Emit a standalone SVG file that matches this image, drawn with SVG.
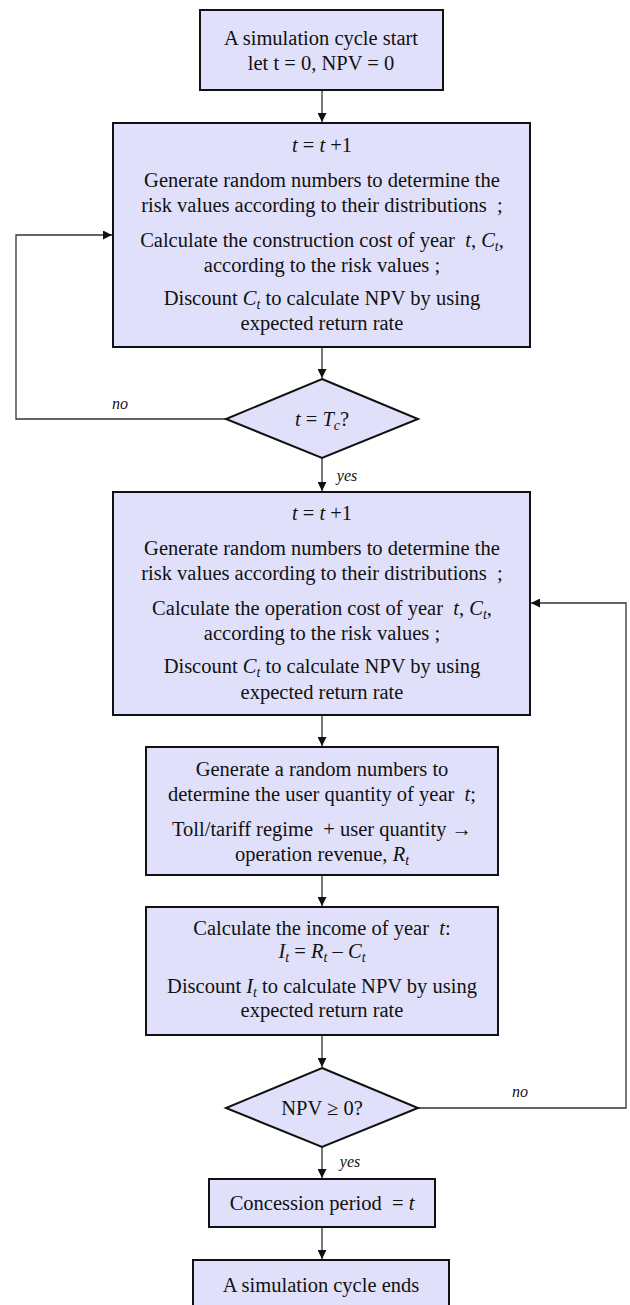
<svg xmlns="http://www.w3.org/2000/svg" width="630" height="1305" viewBox="0 0 630 1305">
<style>
.box{fill:#e0e0fb;stroke:#111;stroke-width:2}
.t{font-family:'Liberation Serif','DejaVu Serif',serif;font-size:20.5px;fill:#111;text-anchor:middle}
.i{font-style:italic}
.lbl{font-family:'Liberation Serif','DejaVu Serif',serif;font-size:16px;font-style:italic;fill:#111;text-anchor:middle}
.c{fill:none;stroke:#333;stroke-width:1.3}
</style>
<defs>
<marker id="ah" viewBox="0 0 10 10" refX="10" refY="5" markerWidth="9" markerHeight="9" markerUnits="userSpaceOnUse" orient="auto">
<path d="M0,0 L10,5 L0,10 z" fill="#111"/>
</marker>
</defs>
<rect width="630" height="1305" fill="#fff"/>
<g id="connectors">
<path class="c" d="M322,90 V122" marker-end="url(#ah)"/>
<path class="c" d="M322,347 V378" marker-end="url(#ah)"/>
<path class="c" d="M226,419 H16 V235 H112" marker-end="url(#ah)"/>
<path class="c" d="M322,458 V491" marker-end="url(#ah)"/>
<path class="c" d="M322,715 V746" marker-end="url(#ah)"/>
<path class="c" d="M322,875 V906" marker-end="url(#ah)"/>
<path class="c" d="M322,1035 V1067" marker-end="url(#ah)"/>
<path class="c" d="M418,1108 H626 V603 H531" marker-end="url(#ah)"/>
<path class="c" d="M322,1147 V1178" marker-end="url(#ah)"/>
<path class="c" d="M322,1227 V1259" marker-end="url(#ah)"/>
<text class="lbl" x="120" y="409">no</text>
<text class="lbl" x="347" y="481">yes</text>
<text class="lbl" x="520" y="1097">no</text>
<text class="lbl" x="350" y="1167">yes</text>
</g>
<g id="start">
<rect class="box" x="200" y="10" width="243" height="80"/>
<text class="t" x="321" y="45">A simulation cycle start</text>
<text class="t" x="321" y="70">let t = 0, NPV = 0</text>
</g>
<g id="construction">
<rect class="box" x="113" y="123" width="417" height="224"/>
<text class="t" x="322" y="152"><tspan class="i">t</tspan> = <tspan class="i">t</tspan> +1</text>
<text class="t" x="322" y="187">Generate random numbers to determine the</text>
<text class="t" x="322" y="212" xml:space="preserve">risk values according to their distributions  ;</text>
<text class="t" x="322" y="247" xml:space="preserve">Calculate the construction cost of year  <tspan class="i">t</tspan>, <tspan class="i">C</tspan><tspan class="i" font-size="14" dy="4">t</tspan><tspan dy="-4">,</tspan></text>
<text class="t" x="322" y="272">according to the risk values ;</text>
<text class="t" x="322" y="305">Discount <tspan class="i">C</tspan><tspan class="i" font-size="14" dy="4">t</tspan><tspan dy="-4"> to calculate NPV by using</tspan></text>
<text class="t" x="322" y="330">expected return rate</text>
</g>
<g id="decision1">
<polygon class="box" points="322,379 418,419 322,458 226,419"/>
<text class="t" x="322" y="426"><tspan class="i">t</tspan> = <tspan class="i">T</tspan><tspan class="i" font-size="14" dy="4">c</tspan><tspan dy="-4">?</tspan></text>
</g>
<g id="operation">
<rect class="box" x="113" y="492" width="417" height="223"/>
<text class="t" x="322" y="520"><tspan class="i">t</tspan> = <tspan class="i">t</tspan> +1</text>
<text class="t" x="322" y="555">Generate random numbers to determine the</text>
<text class="t" x="322" y="580" xml:space="preserve">risk values according to their distributions  ;</text>
<text class="t" x="322" y="615" xml:space="preserve">Calculate the operation cost of year  <tspan class="i">t</tspan>, <tspan class="i">C</tspan><tspan class="i" font-size="14" dy="4">t</tspan><tspan dy="-4">,</tspan></text>
<text class="t" x="322" y="640">according to the risk values ;</text>
<text class="t" x="322" y="673">Discount <tspan class="i">C</tspan><tspan class="i" font-size="14" dy="4">t</tspan><tspan dy="-4"> to calculate NPV by using</tspan></text>
<text class="t" x="322" y="699">expected return rate</text>
</g>
<g id="revenue">
<rect class="box" x="146" y="747" width="352" height="128"/>
<text class="t" x="322" y="776">Generate a random numbers to</text>
<text class="t" x="322" y="801" xml:space="preserve">determine the user quantity of year  <tspan class="i">t</tspan>;</text>
<text class="t" x="322" y="836" xml:space="preserve">Toll/tariff regime  + user quantity →</text>
<text class="t" x="322" y="861">operation revenue, <tspan class="i">R</tspan><tspan class="i" font-size="14" dy="4">t</tspan></text>
</g>
<g id="income">
<rect class="box" x="146" y="907" width="352" height="128"/>
<text class="t" x="322" y="935" xml:space="preserve">Calculate the income of year  <tspan class="i">t</tspan>:</text>
<text class="t" x="322" y="958"><tspan class="i">I</tspan><tspan class="i" font-size="14" dy="4">t</tspan><tspan dy="-4"> = </tspan><tspan class="i">R</tspan><tspan class="i" font-size="14" dy="4">t</tspan><tspan dy="-4"> – </tspan><tspan class="i">C</tspan><tspan class="i" font-size="14" dy="4">t</tspan></text>
<text class="t" x="322" y="993">Discount <tspan class="i">I</tspan><tspan class="i" font-size="14" dy="4">t</tspan><tspan dy="-4"> to calculate NPV by using</tspan></text>
<text class="t" x="322" y="1017">expected return rate</text>
</g>
<g id="decision2">
<polygon class="box" points="322,1068 418,1108 322,1147 226,1108"/>
<text class="t" x="322" y="1115">NPV ≥ 0?</text>
</g>
<g id="concession">
<rect class="box" x="209" y="1179" width="226" height="48"/>
<text class="t" x="322" y="1210" xml:space="preserve">Concession period  = <tspan class="i">t</tspan></text>
</g>
<g id="end">
<rect class="box" x="193" y="1260" width="256" height="60"/>
<text class="t" x="321" y="1292">A simulation cycle ends</text>
</g>
</svg>
